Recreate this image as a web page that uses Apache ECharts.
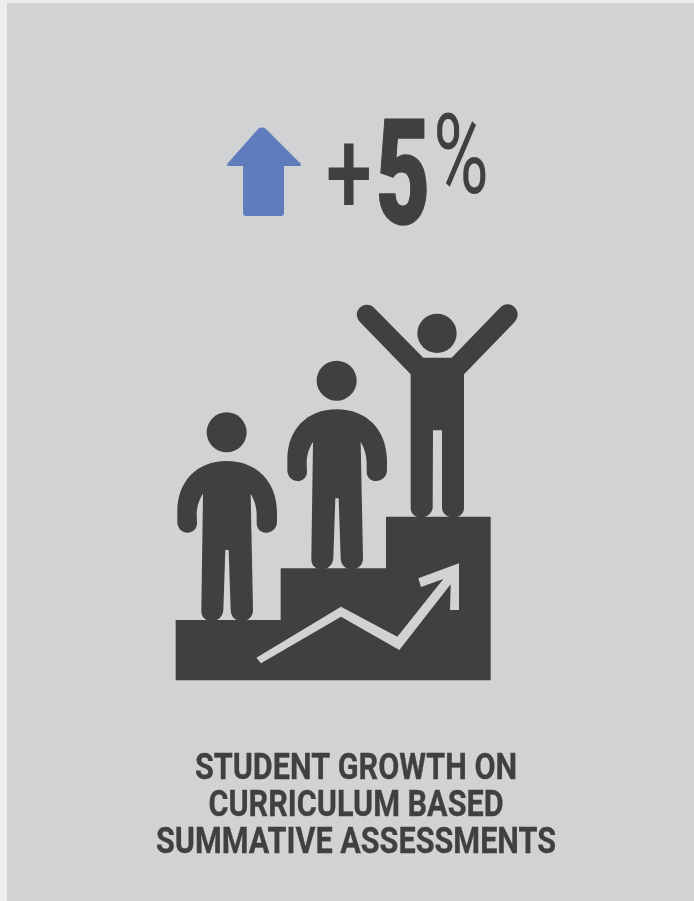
<!DOCTYPE html>
<html>
<head>
<meta charset="utf-8">
<style>html,body{margin:0;padding:0;background:#ededed}#c{width:694px;height:901px}</style>
<script src="https://cdn.jsdelivr.net/npm/echarts@6/dist/echarts.min.js"></script>
</head>
<body>
<div id="c"></div>
<script>
const changeSign = ['+'];
const changeValue = ['5'];
const changeUnit = ['%'];
const captionLines = ['STUDENT GROWTH ON', 'CURRICULUM BASED', 'SUMMATIVE ASSESSMENTS'];

const DARK = '#404040', PANEL = '#d1d2d4', BLUE = '#617cbd';

const personPath = 'M200,498 C290,498 350,560 351,650 L351,680 C351,700 335,713 318,713 C300,713 290,700 290,685 L290,660 C290,635 282,612 272,596 L279,945 C279,965 265,978 245,978 C225,978 213,965 212,945 L206,765 L196,765 L190,945 C188,965 175,978 155,978 C135,978 123,965 124,945 L129,596 C118,612 110,635 110,660 L111,685 C111,700 100,713 83,713 C66,713 52,700 52,680 L52,650 C52,560 110,498 200,498 Z';
const winnerPath = 'M790,188 L875,188 L1020,38 C1035,22 1058,26 1068,42 C1078,58 1072,72 1062,83 L912,238 L912,640 C912,658 895,668 880,668 C862,668 847,655 846,640 L846,406 L819,406 L818,640 C816,655 800,668 783,668 C765,668 752,655 752,640 L752,238 L602,83 C590,72 586,55 596,42 C606,28 628,24 642,38 Z';
const stairs = [[47,1156],[47,975],[362,975],[362,820],[678,820],[678,665],[992,665],[992,1156]];
const trend = [[289,1088],[303,1105],[543,965],[718,1065],[872,868],[870,945],[897,945],[897,805],[775,850],[783,876],[850,852],[712,1025],[543,935]];
const upArrow = 'M258,129 C260,127 264,127 266,129 L300,163 C302,165 301,166 299,166 L284,166 L284,213 C284,215 283,216 281,216 L246,216 C244,216 243,215 243,213 L243,166 L229,166 C227,166 226,165 228,163 Z';

const chart = echarts.init(document.getElementById('c'), null, {renderer: 'canvas', width: 694, height: 901});
chart.setOption({
  animation: false,
  backgroundColor: '#ededed',
  graphic: [
    {type: 'rect', z: 0, shape: {x: 7, y: 3, width: 687, height: 898}, style: {fill: PANEL}},
    {type: 'text', z: 5, x: 349, y: 184, scaleX: 0.7, scaleY: 1,
     style: {text: changeSign[0], font: '500 118px Roboto', fill: DARK, textAlign: 'center', textVerticalAlign: 'middle'}},
    {type: 'text', z: 5, x: 403, y: 187, scaleX: 0.64, scaleY: 1,
     style: {text: changeValue[0], font: '900 147px Roboto', fill: DARK, stroke: DARK, lineWidth: 1.5, textAlign: 'center', textVerticalAlign: 'middle'}},
    {type: 'text', z: 5, x: 461, y: 165, scaleX: 0.675, scaleY: 1,
     style: {text: changeUnit[0], font: '400 112px Roboto', fill: DARK, textAlign: 'center', textVerticalAlign: 'middle'}},
    ...captionLines.map((t, i) => ({
      type: 'text', z: 5, x: 356, y: 770 + i * 37, scaleX: 0.85, scaleY: 1,
      style: {text: t, font: 'bold 36px Roboto', fill: DARK, stroke: DARK, lineWidth: 0.3, textAlign: 'center', textVerticalAlign: 'middle'}
    }))
  ],
  series: [{
    type: 'custom',
    coordinateSystem: 'none',
    silent: true,
    clip: false,
    data: [[0]],
    renderItem: () => ({
      type: 'group',
      children: [
        {type: 'path', shape: {pathData: upArrow}, style: {fill: BLUE}},
        {type: 'group', x: 160, y: 295, scaleX: 1/3, scaleY: 1/3, children: [
          {type: 'polygon', shape: {points: stairs}, style: {fill: DARK}},
          {type: 'polygon', shape: {points: trend}, style: {fill: PANEL}},
          {type: 'circle', shape: {cx: 200, cy: 412, r: 60}, style: {fill: DARK}},
          {type: 'path', shape: {pathData: personPath}, style: {fill: DARK}},
          {type: 'circle', shape: {cx: 530, cy: 257, r: 60}, style: {fill: DARK}},
          {type: 'path', x: 330, y: -155, shape: {pathData: personPath}, style: {fill: DARK}},
          {type: 'circle', shape: {cx: 831, cy: 115, r: 59}, style: {fill: DARK}},
          {type: 'path', shape: {pathData: winnerPath}, style: {fill: DARK}}
        ]}
      ]
    })
  }]
});
</script>
</body>
</html>
